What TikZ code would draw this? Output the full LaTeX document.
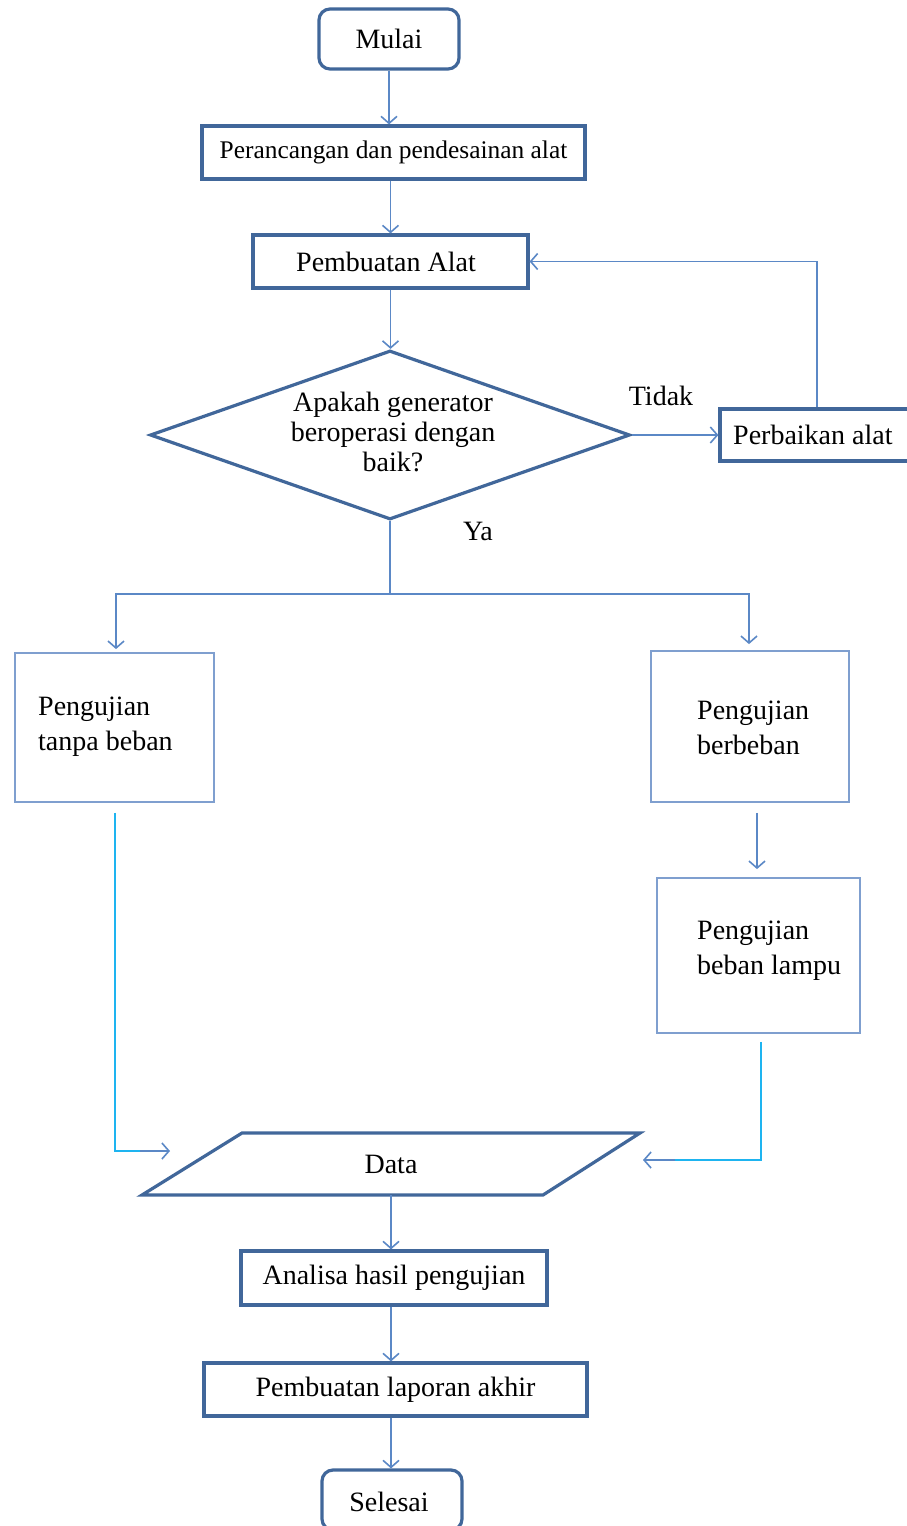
\documentclass[tikz,border=0pt]{standalone}
\usepackage{fontspec}
\setmainfont{Liberation Serif}
\usetikzlibrary{arrows.meta,shapes.geometric,calc}
\definecolor{boxc}{HTML}{41679A}
\definecolor{linec}{HTML}{5B88C6}
\definecolor{thinc}{HTML}{7F9FCF}
\definecolor{cyanc}{HTML}{1EB4F0}
\tikzset{
  heavy/.style={draw=boxc, line width=3.2pt},
  termbox/.style={heavy, rounded corners=11pt, minimum width=140, minimum height=60, inner sep=0pt},
  procbox/.style={heavy, minimum height=53, inner sep=0pt},
  thinbox/.style={draw=thinc, line width=1.8pt, inner sep=0pt},
  lbl/.style={inner sep=0pt, align=left},
  twoline/.style={lbl, font=\fontsize{28}{35}\selectfont},
  arr/.style={draw=linec, line width=1.6pt, -{Straight Barb[length=7pt,width=16pt]}},
  plain/.style={draw=linec, line width=1.6pt},
  cyanline/.style={draw=cyanc, line width=1.8pt},
}
\begin{document}
\begin{tikzpicture}[x=1pt,y=-1pt,font=\fontsize{28}{30}\selectfont]
\useasboundingbox (0,0) rectangle (907,1526);
\fill[white] (0,0) rectangle (907,1526);

% nodes
\node[termbox] (mulai) at (389,39) {Mulai};
\node[procbox, minimum width=383, font=\fontsize{25.4}{28}\selectfont] (per) at (393.5,152.5) {Perancangan dan pendesainan alat};
\node[procbox, minimum width=275] (pemb) at (390.5,261.5) {};
\node[inner sep=0pt] (pembt) at (386,261.5) {Pembuatan Alat};
\node[heavy, diamond, aspect=2.84, minimum width=480, minimum height=169, inner sep=0pt] (dec) at (390,435) {};
\node[inner sep=0pt, align=center] (dect) at (393,432) {Apakah generator\\beroperasi dengan\\baik?};
\node[procbox, minimum width=190, minimum height=52] (perb) at (815,435) {};
\node[lbl, anchor=west] (perbt) at (733,435) {Perbaikan alat};
\node[inner sep=0pt] (tidak) at (661,396) {Tidak};
\node[inner sep=0pt] (ya) at (478,531) {Ya};

\node[thinbox, minimum width=199, minimum height=149] (tanpa) at (114.5,727.5) {};
\node[twoline, anchor=west] (tanpat) at (38,727) {Pengujian\\tanpa beban};
\node[thinbox, minimum width=198, minimum height=151] (berb) at (750,726.5) {};
\node[twoline, anchor=west] (berbt) at (697,727.5) {Pengujian\\berbeban};
\node[thinbox, minimum width=203, minimum height=155] (lampu) at (758.5,955.5) {};
\node[twoline, anchor=west] (lamput) at (697,951) {Pengujian\\beban lampu};

\node[minimum width=300, minimum height=62, inner sep=0pt] (data) at (391,1164) {Data};
\draw[heavy] (242,1133) -- (640,1133) -- (543,1195) -- (142,1195) -- cycle;

\node[procbox, minimum width=306, minimum height=54] (anal) at (394,1278) {Analisa hasil pengujian};
\node[procbox, minimum width=383, minimum height=53] (lap) at (395.5,1389.5) {Pembuatan laporan akhir};
\node[termbox] (sel) at (392,1500) {};
\node[inner sep=0pt] (selt) at (389,1502) {Selesai};

% connectors
\draw[arr] (mulai.south) -- (mulai.south |- per.north);
\draw[arr] (pemb.north |- per.south) -- (pemb.north);
\draw[arr] (pemb.south) -- (pemb.south |- dec.north);
\draw[arr] (dec.east) -- (perb.west);
\draw[arr] ($(perb.north)+(2,0)$) |- (pemb.east);

\coordinate (split) at ($(dec.south)+(0,73)$);
\draw[plain] (dec.south) -- (split);
\draw[arr] (split) -| ($(tanpa.north)+(1.5,-3)$);
\draw[arr] (split) -| ($(berb.north)+(-1,-6)$);

\coordinate (b1) at ($(berb.south)+(7,10)$);
\coordinate (b2) at ($(lampu.north)+(-1.5,-8)$);
\draw[arr] (b1) -- (b2);

\coordinate (l1) at ($(tanpa.south)+(0.5,10)$);
\coordinate (l2) at (115,1151);
\coordinate (l3) at (140,1151);
\coordinate (l4) at (170,1151);
\draw[cyanline] (l1) -- (l2) -- (l3);
\draw[arr] (l3) -- (l4);

\coordinate (r1) at ($(lampu.south)+(2.5,8)$);
\coordinate (r2) at (761,1160);
\coordinate (r3) at (675,1160);
\coordinate (r4) at (643,1160);
\draw[cyanline] (r1) -- (r2) -- (r3);
\draw[arr] (r3) -- (r4);

\draw[arr] (data.south) -- (data.south |- anal.north);
\draw[arr] (data.south |- anal.south) -- (data.south |- lap.north);
\draw[arr] (data.south |- lap.south) -- (data.south |- sel.north);
\end{tikzpicture}
\end{document}
